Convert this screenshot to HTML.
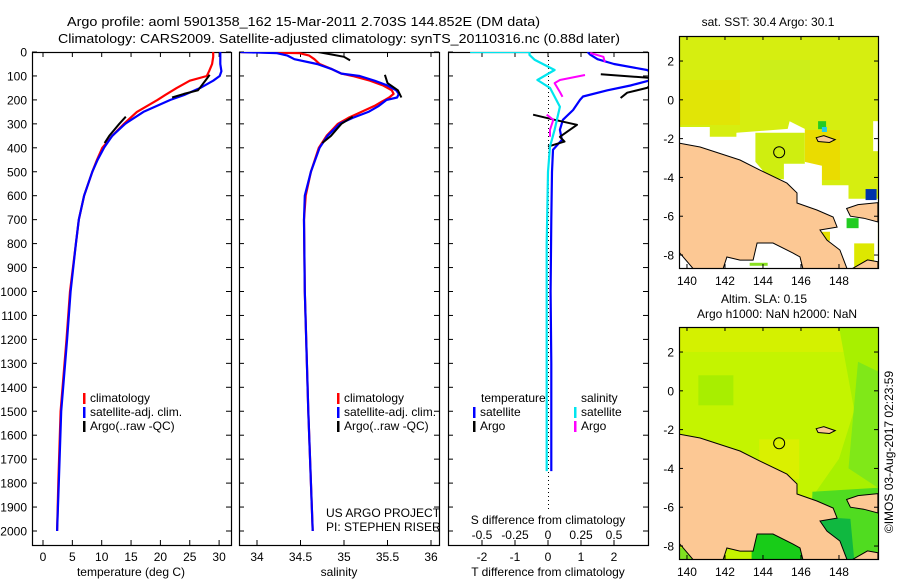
<!DOCTYPE html>
<html><head><meta charset="utf-8"><style>
html,body{margin:0;padding:0;background:#fff;}
svg{display:block;font-family:"Liberation Sans",sans-serif;}
text{fill:#000;}
</style></head><body>
<svg id="fig" width="900" height="580" viewBox="0 0 900 580" xmlns="http://www.w3.org/2000/svg">
<text x="67" y="26" font-size="13" textLength="473" lengthAdjust="spacingAndGlyphs">Argo profile: aoml 5901358_162 15-Mar-2011 2.703S 144.852E (DM data)</text>
<text x="58" y="43" font-size="13" textLength="562" lengthAdjust="spacingAndGlyphs">Climatology: CARS2009. Satellite-adjusted climatology: synTS_20110316.nc (0.88d later)</text>
<g id="p1"></g>
<g id="p2"></g>
<g id="p3"></g>
<g id="m1"></g>
<g id="m2"></g>
<text transform="translate(893,452) rotate(-90)" text-anchor="middle" font-size="12">©IMOS 03-Aug-2017 02:23:59</text>
</svg>
<script>
// ---------- data ----------
const tDepths = [0,20,50,80,100,120,150,180,200,250,300,350,400,450,500,600,700,800,1000,1200,1500,1800,2000];
const tClim   = [29.0,29.0,28.8,28.3,27.9,25.0,22.8,20.8,19.5,16.0,13.8,11.8,10.1,9.2,8.4,7.0,6.1,5.6,4.6,4.0,3.0,2.6,2.4];
const tSat    = [30.2,30.2,30.2,30.4,30.1,29.0,26.8,24.0,21.7,17.1,14.0,11.8,10.4,9.3,8.4,7.0,6.1,5.6,4.7,4.1,3.1,2.7,2.4];
const tArgoDepths1 = [95,115,160,175,190];
const tArgo1       = [28.4,27.8,26.4,24.0,22.0];
const tArgoDepths2 = [270,300,350,380];
const tArgo2       = [14.1,13.0,11.3,10.5];

const sDepths = [0,5,15,30,50,70,90,100,120,140,160,175,190,200,225,250,275,300,350,400,500,600,700,1000,1500,2000];
const sClim   = [33.81,34.49,34.6,34.66,34.72,34.85,34.97,35.1,35.3,35.45,35.55,35.57,35.52,35.47,35.35,35.2,35.05,34.93,34.8,34.71,34.62,34.56,34.54,34.55,34.59,34.64];
const sSat    = [33.81,34.23,34.35,34.43,34.69,34.85,34.97,35.18,35.35,35.5,35.6,35.63,35.61,35.49,35.4,35.28,35.1,34.95,34.81,34.72,34.62,34.55,34.54,34.55,34.59,34.64];
const sArgoDepths1 = [0,10,20,35];
const sArgo1       = [34.70,34.85,35.0,35.07];
const sArgoDepths2 = [95,130,160,190];
const sArgo2       = [35.47,35.5,35.62,35.66];
const sArgoDepths3 = [270,300,350,380];
const sArgo3       = [35.1,34.97,34.85,34.75];

const dtSatDepths = [0,10,30,50,75,90,110,120,140,160,186,200,242,283,325,367,408,500,700,1000,1300,1750];
const dtSat       = [1.2,1.27,1.5,2.0,3.0,3.2,3.2,3.05,2.5,1.8,1.06,0.97,0.76,0.45,0.36,0.42,0.15,0.12,0.1,0.08,0.1,0.1];
const dtArgoDepths1 = [93,109];
const dtArgo1       = [1.6,3.2];
const dtArgoDepths2 = [130,150,170,192];
const dtArgo2       = [3.2,3.0,2.4,2.2];
const dtArgoDepths3 = [262,283,304,354,374,395];
const dtArgo3       = [-0.45,0.2,0.88,0.36,0.5,0.0];
const dsSatDepths = [0,0,12,33,75,117,150,229,325,395,500,800,1200,1750];
const dsSat       = [-0.59,-0.14,-0.14,-0.1,0.05,-0.08,0.015,0.09,0.05,0.015,0.0,-0.01,-0.01,-0.01];
const dsArgoDepths1 = [4,20,42];
const dsArgo1       = [0.32,0.42,0.43];
const dsArgoDepths2 = [96,117,130,167,187];
const dsArgo2       = [0.28,0.09,0.05,0.09,0.11];
const dsArgoDepths3 = [262,283,325,354];
const dsArgo3       = [-0.01,0.04,0.015,0.015];

const depthTicks = [0,100,200,300,400,500,600,700,800,900,1000,1100,1200,1300,1400,1500,1600,1700,1800,1900,2000];
const tTicks = [0,5,10,15,20,25,30];
const sTicks = [34,34.5,35,35.5,36];
const sTickLabels = ["34","34.5","35","35.5","36"];
const dtTicks = [-2,-1,0,1,2];
const dsTicks = [-0.5,-0.25,0,0.25,0.5];
const dsTickLabels = ["-0.5","-0.25","0","0.25","0.5"];
const lonTicks = [140,142,144,146,148];
const latTicks = [2,0,-2,-4,-6,-8];
const argoLon = 144.852, argoLat = -2.703;

// ---------- helpers ----------
const NS = "http://www.w3.org/2000/svg";
function mk(parent, tag, attrs, txt){
  const e = document.createElementNS(NS, tag);
  for (const k in attrs) e.setAttribute(k, attrs[k]);
  if (txt !== undefined) e.textContent = txt;
  parent.appendChild(e);
  return e;
}
const TOP = 52, BOT = 545;
function yD(d){ return 52 + d * 0.2395; }

function panel(g, x0, x1, xs, ticks, labels, clipId){
  const defs = mk(g, 'defs', {});
  const cp = mk(defs, 'clipPath', {id: clipId});
  mk(cp, 'rect', {x: x0, y: TOP, width: x1 - x0, height: BOT - TOP});
  const box = mk(g, 'rect', {x: x0 + .5, y: TOP + .5, width: x1 - x0, height: BOT - TOP, fill: 'none', stroke: '#000', 'stroke-width': 1.2});
  
  
  depthTicks.forEach(d => {
    const y = yD(d);
    mk(g, 'line', {x1: x0, x2: x0 + 5, y1: y, y2: y, stroke: '#000'});
    mk(g, 'line', {x1: x1 - 5, x2: x1, y1: y, y2: y, stroke: '#000'});
  });
  ticks.forEach((v, i) => {
    const x = xs(v);
    mk(g, 'line', {x1: x, x2: x, y1: BOT, y2: BOT - 5, stroke: '#000'});
    mk(g, 'line', {x1: x, x2: x, y1: TOP, y2: TOP + 5, stroke: '#000'});
    if (labels) {
      const t = mk(g, 'text', {x: x, y: 561, 'text-anchor': 'middle', 'font-size': 12}, labels[i]);
      
      
    }
  });
  return mk(g, 'g', {'clip-path': 'url(#' + clipId + ')'});
}
function line(g, xs, depths, vals, color, w, name){
  const d = depths.map((dep, i) => (i ? 'L' : 'M') + xs(vals[i]).toFixed(1) + ',' + yD(dep).toFixed(1)).join('');
  const p = mk(g, 'path', {d: d, fill: 'none', stroke: color, 'stroke-width': w || 2.2, 'stroke-linejoin': 'round'});
  
  
  return p;
}
function legend(g, x, y, color, label){
  mk(g, 'rect', {x: x, y: y - 9, width: 2.5, height: 11, fill: color});
  const t = mk(g, 'text', {x: x + 7, y: y, 'font-size': 12}, label);
  
  
}

// ---------- panel 1: temperature ----------
const p1 = document.getElementById('p1');
const xT = v => 43 + v * 5.87;
const c1 = panel(p1, 32, 231, xT, tTicks, tTicks.map(String), 'clip1');
depthTicks.forEach(d => {
  const t = mk(p1, 'text', {x: 27, y: yD(d) + 4.5, 'text-anchor': 'end', 'font-size': 12}, String(d));
  
  
});
line(c1, xT, tDepths, tClim, '#ff0000', 2.2, 'temperature-climatology-line');
line(c1, xT, tDepths, tSat, '#0000ff', 2.2, 'temperature-satellite-line');
line(c1, xT, tArgoDepths1, tArgo1, '#000', 2, 'temperature-argo-line');
line(c1, xT, tArgoDepths2, tArgo2, '#000', 2, 'temperature-argo-line');
legend(p1, 83, 402, '#ff0000', 'climatology');
legend(p1, 83, 416, '#0000ff', 'satellite-adj. clim.');
legend(p1, 83, 430, '#000', 'Argo(..raw -QC)');
mk(p1, 'text', {x: 131, y: 576, 'text-anchor': 'middle', 'font-size': 12,  }, 'temperature (deg C)');

// ---------- panel 2: salinity ----------
const p2 = document.getElementById('p2');
const xS = v => 344 + (v - 35) * 87;
const c2 = panel(p2, 239, 439, xS, sTicks, sTickLabels, 'clip2');
line(c2, xS, sDepths, sClim, '#ff0000', 2.2, 'salinity-climatology-line');
line(c2, xS, sDepths, sSat, '#0000ff', 2.2, 'salinity-satellite-line');
line(c2, xS, sArgoDepths1, sArgo1, '#000', 2, 'salinity-argo-line');
line(c2, xS, sArgoDepths2, sArgo2, '#000', 2, 'salinity-argo-line');
line(c2, xS, sArgoDepths3, sArgo3, '#000', 2, 'salinity-argo-line');
legend(p2, 337, 402, '#ff0000', 'climatology');
legend(p2, 337, 416, '#0000ff', 'satellite-adj. clim.');
legend(p2, 337, 430, '#000', 'Argo(..raw -QC)');
mk(p2, 'text', {x: 326, y: 517, 'font-size': 12,  }, 'US ARGO PROJECT');
mk(p2, 'text', {x: 326, y: 531, 'font-size': 12,  }, 'PI: STEPHEN RISER');
mk(p2, 'text', {x: 339, y: 576, 'text-anchor': 'middle', 'font-size': 12,  }, 'salinity');

// ---------- panel 3: differences ----------
const p3 = document.getElementById('p3');
const xDT = v => 548 + v * 33;
const xDS = v => 548 + v * 132;
const c3 = panel(p3, 448, 648, xDT, dtTicks, dtTicks.map(String), 'clip3');
dsTicks.forEach((v, i) => {
  const t = mk(p3, 'text', {x: xDS(v), y: 539, 'text-anchor': 'middle', 'font-size': 12}, dsTickLabels[i]);
  
  
});
mk(c3, 'line', {x1: 548.5, x2: 548.5, y1: TOP, y2: 510, stroke: '#000', 'stroke-dasharray': '1,3',  });
line(c3, xDT, dtSatDepths, dtSat, '#0000ff', 2.2, 't-diff-satellite-line');
line(c3, xDT, dtArgoDepths1, dtArgo1, '#000', 2, 't-diff-argo-line');
line(c3, xDT, dtArgoDepths2, dtArgo2, '#000', 2, 't-diff-argo-line');
line(c3, xDT, dtArgoDepths3, dtArgo3, '#000', 2, 't-diff-argo-line');
line(c3, xDS, dsSatDepths, dsSat, '#00e5ee', 2.2, 's-diff-satellite-line');
line(c3, xDS, dsArgoDepths1, dsArgo1, '#ff00ff', 2, 's-diff-argo-line');
line(c3, xDS, dsArgoDepths2, dsArgo2, '#ff00ff', 2, 's-diff-argo-line');
line(c3, xDS, dsArgoDepths3, dsArgo3, '#ff00ff', 2, 's-diff-argo-line');
mk(p3, 'text', {x: 481, y: 402, 'font-size': 12}, 'temperature');
legend(p3, 473, 416, '#0000ff', 'satellite');
legend(p3, 473, 430, '#000', 'Argo');
mk(p3, 'text', {x: 581, y: 402, 'font-size': 12}, 'salinity');
legend(p3, 574, 416, '#00e5ee', 'satellite');
legend(p3, 574, 430, '#ff00ff', 'Argo');
mk(p3, 'text', {x: 548, y: 524, 'text-anchor': 'middle', 'font-size': 12,  }, 'S difference from climatology');
mk(p3, 'text', {x: 548, y: 576, 'text-anchor': 'middle', 'font-size': 12,  }, 'T difference from climatology');

// ---------- maps ----------
const coast = [[139.58,-2.23],[140.69,-2.43],[142.79,-3.10],[143.84,-3.62],[145.26,-4.29],[145.79,-4.80],[145.79,-5.32],[146.84,-5.68],[147.69,-6.04],[147.9,-6.56],[147.0,-6.71],[147.37,-7.23],[148.05,-7.74],[148.42,-8.7],[146.1,-8.7],[145.95,-8.10],[145.58,-7.9],[144.53,-7.38],[143.69,-7.38],[143.48,-8.26],[142.79,-8.26],[142.1,-8.1],[141.9,-8.7],[140.32,-8.7],[139.63,-7.9],[139.58,-7.9]];
const nBritain = [[148.4,-5.6],[149,-5.4],[150.05,-5.3],[150.05,-6.3],[149.3,-6.1],[148.6,-6.0]];
const seLand = [[148.7,-8.7],[149.5,-8.25],[150.05,-8.35],[150.05,-8.7]];
const newIreland = [[146.8,-1.95],[147.2,-1.85],[147.8,-2.05],[147.5,-2.2],[146.9,-2.15]];

function drawMap(g, y0, title1, title2, fills){
  const X0 = 679, X1 = 878, Y1 = y0 + 232;
  const lx = lon => X0 + (lon - 139.58) * 19;
  const ly = lat => y0 + (3.29 - lat) * 19.4;
  const pts = arr => arr.map(p => lx(p[0]).toFixed(1) + ',' + ly(p[1]).toFixed(1)).join(' ');
  const id = 'mc' + y0;
  const cp = mk(mk(g, 'defs', {}), 'clipPath', {id: id});
  mk(cp, 'rect', {x: X0, y: y0, width: X1 - X0, height: Y1 - y0});
  const inner = mk(g, 'g', {'clip-path': 'url(#' + id + ')'});
  fills(inner, lx, ly, pts);
  [coast, nBritain, seLand, newIreland].forEach(a => {
    const p = mk(inner, 'polygon', {points: pts(a), fill: '#fcc894', stroke: '#000', 'stroke-width': 1});
    
    
  });
  const c = mk(inner, 'circle', {cx: lx(argoLon), cy: ly(argoLat), r: 5.5, fill: 'none', stroke: '#000', 'stroke-width': 1});
  
  
  mk(g, 'rect', {x: X0 + .5, y: y0 + .5, width: X1 - X0, height: Y1 - y0, fill: 'none', stroke: '#000', 'stroke-width': 1.2});
  lonTicks.forEach(v => {
    mk(g, 'line', {x1: lx(v), x2: lx(v), y1: y0, y2: y0 + 4, stroke: '#000'});
    mk(g, 'line', {x1: lx(v), x2: lx(v), y1: Y1, y2: Y1 - 4, stroke: '#000'});
    mk(g, 'text', {x: lx(v), y: Y1 + 17, 'text-anchor': 'middle', 'font-size': 12}, String(v));
  });
  latTicks.forEach(v => {
    mk(g, 'line', {x1: X0, x2: X0 + 4, y1: ly(v), y2: ly(v), stroke: '#000'});
    mk(g, 'line', {x1: X1 - 4, x2: X1, y1: ly(v), y2: ly(v), stroke: '#000'});
    mk(g, 'text', {x: 674, y: ly(v) + 4.5, 'text-anchor': 'end', 'font-size': 12}, String(v));
  });
  if (title2) {
    mk(g, 'text', {x: 764, y: y0 - 24, 'text-anchor': 'middle', 'font-size': 12}, title1);
    mk(g, 'text', {x: 777, y: y0 - 9, 'text-anchor': 'middle', 'font-size': 12}, title2);
  } else {
    mk(g, 'text', {x: 768, y: y0 - 10, 'text-anchor': 'middle', 'font-size': 12}, title1);
  }
}

drawMap(document.getElementById('m1'), 36, 'sat. SST: 30.4  Argo: 30.1', null, (g, lx, ly, pts) => {
  mk(g, 'rect', {x: 670, y: 30, width: 220, height: 250, fill: '#d6ee10'});
  mk(g, 'rect', {x: 680, y: 80, width: 60, height: 45, fill: '#e8e000', opacity: .6});
  mk(g, 'rect', {x: 800, y: 130, width: 40, height: 50, fill: '#eadc00'});
  mk(g, 'rect', {x: 760, y: 60, width: 50, height: 20, fill: '#c8ee20', opacity: .7});
  mk(g, 'polygon', {points: pts([[139.58,-1.4],[141.2,-1.4],[141.2,-1.9],[142.6,-1.9],[142.6,-1.7],[145.3,-1.5],[145.4,-1.1],[146.2,-1.5],[146.2,-3.2],[147.1,-3.4],[147.1,-4.4],[148.5,-4.4],[148.5,-5.1],[150.05,-5.1],[150.05,-8.7],[139.58,-8.7]]), fill: '#fff'});
  mk(g, 'polygon', {points: pts([[143.6,-1.7],[146.2,-1.7],[146.2,-3.3],[145.1,-3.3],[145.1,-4.1],[144.3,-4],[143.6,-3.2]]), fill: '#cfee10'});
  mk(g, 'rect', {x: lx(149.8), y: ly(-1.1), width: 6, height: 30, fill: '#fff'});
  mk(g, 'rect', {x: lx(149.4), y: ly(-4.6), width: 11, height: 11, fill: '#0033aa'});
  mk(g, 'rect', {x: lx(146.9), y: ly(-1.1), width: 8, height: 8, fill: '#22cc22'});
  mk(g, 'rect', {x: lx(147.1), y: ly(-1.4), width: 5, height: 5, fill: '#22ccee'});
  mk(g, 'rect', {x: lx(148.4), y: ly(-6.1), width: 12, height: 10, fill: '#22cc22'});
  mk(g, 'rect', {x: lx(148.8), y: ly(-7.4), width: 20, height: 24, fill: '#dde800'});
  mk(g, 'rect', {x: lx(147.0), y: ly(-6.8), width: 10, height: 9, fill: '#e6e000'});
  mk(g, 'rect', {x: lx(143.3), y: ly(-8.4), width: 18, height: 3, fill: '#88e020'});
});

drawMap(document.getElementById('m2'), 327, 'Altim. SLA: 0.15', 'Argo h1000: NaN h2000: NaN', (g, lx, ly, pts) => {
  mk(g, 'rect', {x: 670, y: 320, width: 220, height: 250, fill: '#c4f400'});
  mk(g, 'rect', {x: 679, y: 327, width: 199, height: 25, fill: '#d8f000', opacity: .8});
  mk(g, 'rect', {x: lx(140.6), y: ly(0.8), width: 35, height: 30, fill: '#a8ee00'});
  mk(g, 'rect', {x: lx(143.8), y: ly(-2.5), width: 40, height: 40, fill: '#daf000'});
  mk(g, 'polygon', {points: pts([[148,3.3],[150.05,3.3],[150.05,-8.7],[146.5,-8.7],[146.5,-5.6],[148,-3.5],[148.8,-1]]), fill: '#a8f000'});
  mk(g, 'polygon', {points: pts([[149,1.5],[150.05,1],[150.05,-5],[148.5,-4]]), fill: '#80e818'});
  mk(g, 'polygon', {points: pts([[146.6,-5.2],[150.05,-5.0],[150.05,-8.7],[146.5,-8.7]]), fill: '#50dc20'});
  mk(g, 'polygon', {points: pts([[147,-6.5],[148.6,-6.6],[148.8,-8.7],[147,-8.7]]), fill: '#10b840'});
  mk(g, 'polygon', {points: pts([[143.4,-7.2],[146.2,-7.2],[146.2,-8.7],[143.4,-8.7]]), fill: '#18cc18'});
  mk(g, 'rect', {x: 679, y: ly(-8.1), width: 15, height: 15, fill: '#80e020'});
});
</script>
</body></html>
